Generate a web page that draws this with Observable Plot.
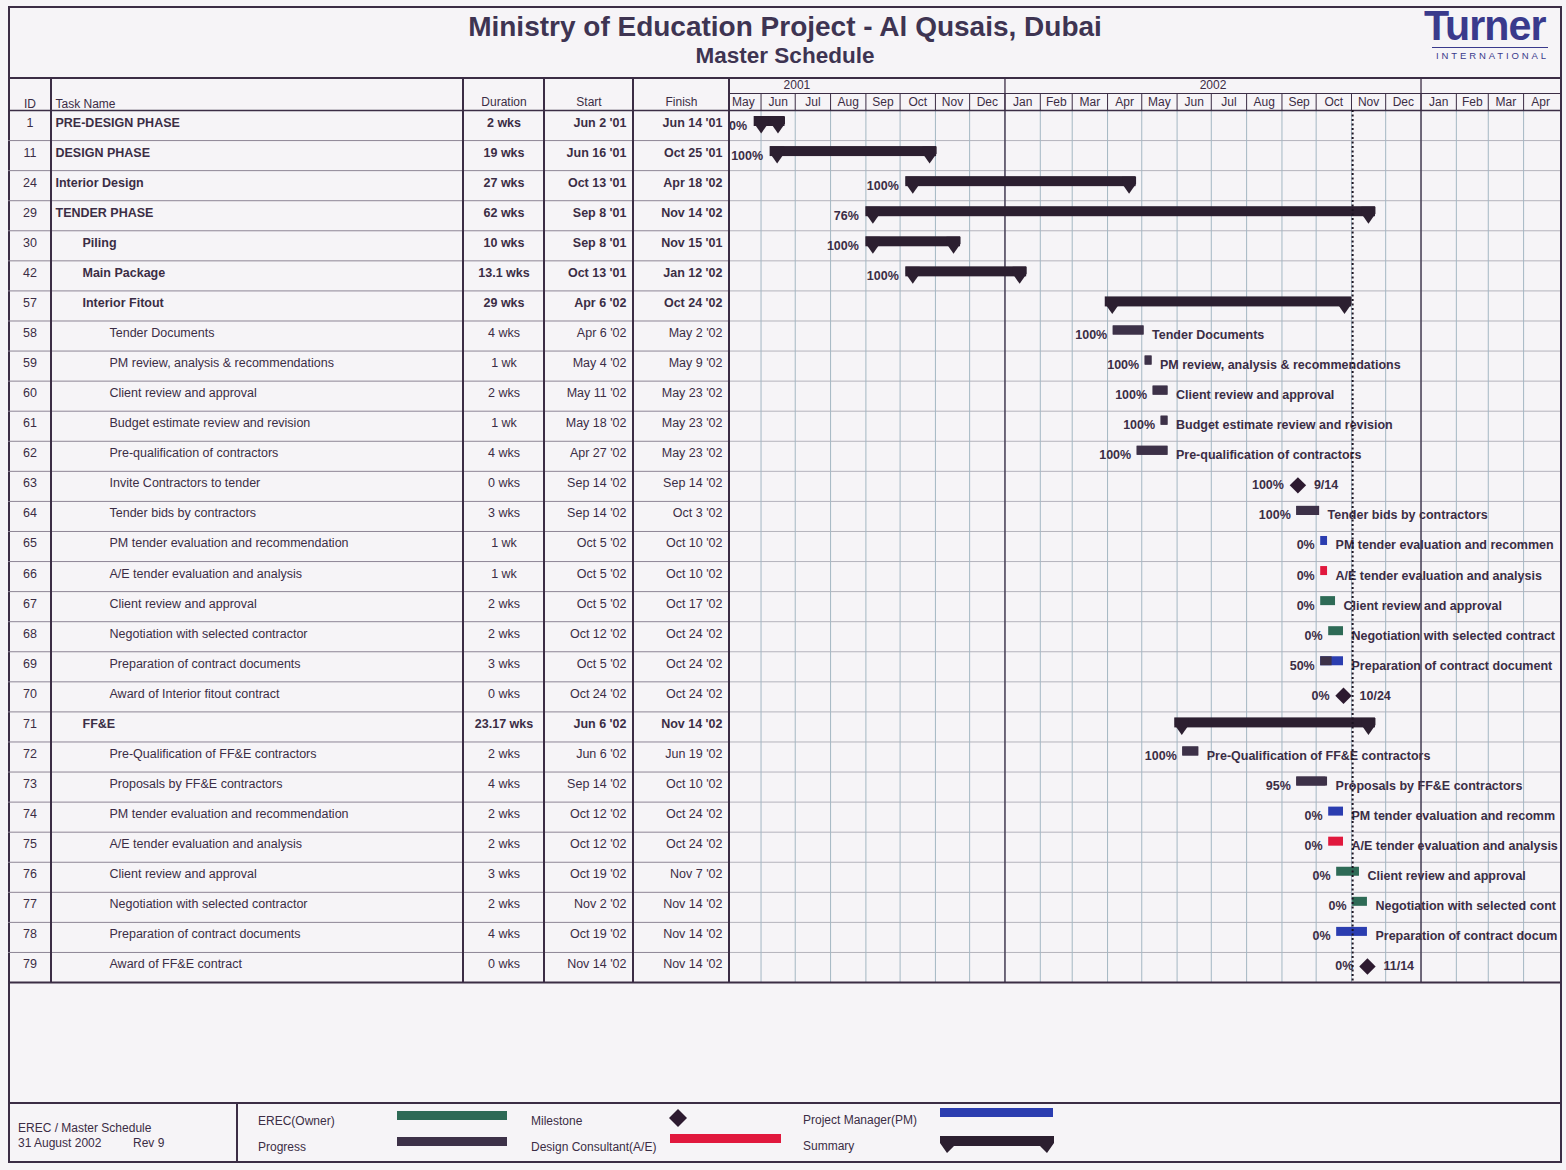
<!DOCTYPE html>
<html>
<head>
<meta charset="utf-8">
<title>Ministry of Education Project - Master Schedule</title>
<script src="https://cdn.jsdelivr.net/npm/d3@7"></script>
<script src="https://cdn.jsdelivr.net/npm/@observablehq/plot@0.6"></script>
<style>
  html, body { margin: 0; padding: 0; background: #f6f4f7; }
  #page { position: relative; width: 1566px; height: 1170px; overflow: hidden;
          font-family: "Liberation Sans", Arial, sans-serif; color: #3b2d45; }
  .abs { position: absolute; }
  .line { position: absolute; background: #3b2d45; }
  .title { position: absolute; left: 8px; width: 1554px; text-align: center; font-weight: bold; color: #3e3452; white-space: nowrap; }
  .lg { position: absolute; font-size: 12px; line-height: 14px; white-space: nowrap; color: #3b2d45; }
  .sw { position: absolute; height: 9px; }
</style>
</head>
<body>
<div id="page">
  <div class="abs" style="left:8px;top:6px;width:1554px;height:1157px;border:2px solid #3b2d45;box-sizing:border-box;"></div>
  <div class="title" style="top:11px;font-size:28px;">Ministry of Education Project - Al Qusais, Dubai</div>
  <div class="title" style="top:43px;font-size:22.5px;">Master Schedule</div>

  <div class="abs" style="left:1424px;top:7px;font-size:42px;font-weight:bold;color:#3a3a8c;letter-spacing:-1px;transform:scaleX(0.98);transform-origin:left top;line-height:38px;">Turner</div>
  <div class="abs" style="left:1432px;top:47px;width:116px;height:1px;background:#3a3a8c;"></div>
  <div class="abs" style="left:1436px;top:50px;font-size:9.5px;line-height:11px;letter-spacing:2.9px;color:#3a3a8c;">INTERNATIONAL</div>

  <div class="line" style="left:8px;top:77px;width:1554px;height:2px;"></div>

  <div class="line" style="left:8px;top:1102px;width:1554px;height:2px;"></div>
  <div class="line" style="left:236px;top:1102px;width:1.5px;height:60px;"></div>

  <div class="lg" style="left:18px;top:1121px;">EREC / Master Schedule</div>
  <div class="lg" style="left:18px;top:1136px;">31 August  2002</div>
  <div class="lg" style="left:133px;top:1136px;">Rev 9</div>

  <div class="lg" style="left:258px;top:1114px;">EREC(Owner)</div>
  <div class="sw" style="left:397px;top:1111px;width:110px;background:#2e6a56;"></div>
  <div class="lg" style="left:258px;top:1140px;">Progress</div>
  <div class="sw" style="left:397px;top:1137px;width:110px;background:#3d3148;"></div>

  <div class="lg" style="left:531px;top:1114px;">Milestone</div>
  <svg class="abs" style="left:669px;top:1109px;" width="18" height="18"><path d="M9,0L18,9L9,18L0,9Z" fill="#2d1a30"/></svg>
  <div class="lg" style="left:531px;top:1140px;">Design Consultant(A/E)</div>
  <div class="sw" style="left:670px;top:1134px;width:111px;background:#e1183d;"></div>

  <div class="lg" style="left:803px;top:1113px;">Project Manager(PM)</div>
  <div class="sw" style="left:940px;top:1108px;width:113px;background:#2b3db0;"></div>
  <div class="lg" style="left:803px;top:1139px;">Summary</div>
  <svg class="abs" style="left:940px;top:1136px;" width="114" height="18"><path d="M0,0H114V7L107,17L100,10H14L7,17L0,7Z" fill="#2c1f30"/></svg>
</div>

<script>
// ---------------- data ----------------
const ids = [1, 11, 24, 29, 30, 42, 57, 58, 59, 60, 61, 62, 63, 64, 65, 66, 67, 68, 69, 70, 71, 72, 73, 74, 75, 76, 77, 78, 79];
const taskNames = [
  "PRE-DESIGN PHASE", "DESIGN PHASE", "Interior Design", "TENDER PHASE", "Piling", "Main Package", "Interior Fitout",
  "Tender Documents", "PM review, analysis & recommendations", "Client review and approval",
  "Budget estimate review and revision", "Pre-qualification of contractors", "Invite Contractors to tender",
  "Tender bids by contractors", "PM tender evaluation and recommendation", "A/E tender evaluation and analysis",
  "Client review and approval", "Negotiation with selected contractor", "Preparation of contract documents",
  "Award of Interior fitout contract", "FF&E", "Pre-Qualification of FF&E contractors", "Proposals by FF&E contractors",
  "PM tender evaluation and recommendation", "A/E tender evaluation and analysis", "Client review and approval",
  "Negotiation with selected contractor", "Preparation of contract documents", "Award of FF&E contract"
];
const outlineLevels = [0, 0, 0, 0, 1, 1, 1, 2, 2, 2, 2, 2, 2, 2, 2, 2, 2, 2, 2, 2, 1, 2, 2, 2, 2, 2, 2, 2, 2];
const taskKinds = [
  "summary", "summary", "summary", "summary", "summary", "summary", "summary",
  "task", "task", "task", "task", "task", "milestone", "task", "task", "task", "task", "task", "task", "milestone",
  "summary", "task", "task", "task", "task", "task", "task", "task", "milestone"
];
const durationWeeks = [2, 19, 27, 62, 10, 13.1, 29, 4, 1, 2, 1, 4, 0, 3, 1, 1, 2, 2, 3, 0, 23.17, 2, 4, 2, 2, 3, 2, 4, 0];
const startDates = [
  "2001-06-02", "2001-06-16", "2001-10-13", "2001-09-08", "2001-09-08", "2001-10-13", "2002-04-06",
  "2002-04-06", "2002-05-04", "2002-05-11", "2002-05-18", "2002-04-27", "2002-09-14", "2002-09-14",
  "2002-10-05", "2002-10-05", "2002-10-05", "2002-10-12", "2002-10-05", "2002-10-24",
  "2002-06-06", "2002-06-06", "2002-09-14", "2002-10-12", "2002-10-12", "2002-10-19", "2002-11-02", "2002-10-19", "2002-11-14"
];
const finishDates = [
  "2001-06-14", "2001-10-25", "2002-04-18", "2002-11-14", "2001-11-15", "2002-01-12", "2002-10-24",
  "2002-05-02", "2002-05-09", "2002-05-23", "2002-05-23", "2002-05-23", "2002-09-14", "2002-10-03",
  "2002-10-10", "2002-10-10", "2002-10-17", "2002-10-24", "2002-10-24", "2002-10-24",
  "2002-11-14", "2002-06-19", "2002-10-10", "2002-10-24", "2002-10-24", "2002-11-07", "2002-11-14", "2002-11-14", "2002-11-14"
];
// responsible party of the remaining (not yet complete) work: "Owner" = EREC, "PM", "A/E"; "" = complete
const responsible = [
  "", "", "", "", "", "", "",
  "", "", "", "", "", "", "",
  "PM", "A/E", "Owner", "Owner", "PM", "",
  "", "", "", "PM", "A/E", "Owner", "Owner", "PM", ""
];
const percentComplete = [0, 100, 100, 76, 100, 100, null, 100, 100, 100, 100, 100, 100, 100, 0, 0, 0, 0, 50, 0,
  null, 100, 95, 0, 0, 0, 0, 0, 0];
const timescaleStart = "2001-05-01";
const timescaleEnd = "2003-05-01";
const statusDate = "2002-11-02";

// ---------------- styles ----------------
const ink = "#3b2d45";
const summaryFill = "#2c1f30";
const progressFill = "#3d3148";
const milestoneFill = "#2d1a30";
const partyFill = {Owner: "#2e6a56", PM: "#2b3db0", "A/E": "#e1183d", "": progressFill};
const gridV = "#a4b7c3";
const gridH = "#b4b3bc";
const rowRule = "#8d8595";
const font = "'Liberation Sans', Arial, sans-serif";
const fs = 12.5;

const fmtDate = d3.utcFormat("%b %-d '%y");
const fmtMD = d3.utcFormat("%-m/%-d");
const fmtMonth = d3.utcFormat("%b");
const fmtDur = w => w === 1 ? "1 wk" : `${w} wks`;

const rows = ids.map((id, i) => {
  const start = new Date(startDates[i]);
  const finish = new Date(finishDates[i]);
  return {
    i, id: String(id), name: taskNames[i], level: outlineLevels[i], kind: taskKinds[i],
    bold: taskKinds[i] === "summary", dur: fmtDur(durationWeeks[i]),
    startLabel: fmtDate(start), finishLabel: fmtDate(finish),
    start, finish, end: d3.utcDay.offset(finish, 1),
    party: responsible[i], pct: percentComplete[i]
  };
});

// ---------------- layout ----------------
const rowH = 30.07, headH = 32, n = rows.length;
const off = px => px / rowH;
const bodyBottom = headH + n * rowH;
const plotH = Math.ceil(bodyBottom + 2);
const gridTop = 78;
const yScale = {domain: [0, n], range: [headH, bodyBottom], axis: null};
const baseStyle = {background: "transparent", fontFamily: font, fontSize: fs + "px", color: ink, overflow: "visible"};
const page = document.getElementById("page");

function mount(svg, left, width) {
  const div = document.createElement("div");
  div.style.cssText = `position:absolute;left:${left}px;top:${gridTop}px;width:${width}px;`;
  div.append(svg);
  page.append(div);
}

// ---------------- table columns ----------------
const columns = [
  {x0: 8, x1: 51, header: "ID", hAnchor: "top", hdx: 0, hdy: -6, field: "id", anchor: "middle", dx: 0, boldable: false},
  {x0: 51, x1: 463, header: "Task Name", hAnchor: "top-left", hdx: 4, hdy: -6, field: "name", indent: true},
  {x0: 463, x1: 544, header: "Duration", hAnchor: "top", hdx: 0, hdy: -8, field: "dur", anchor: "middle", dx: 0, boldable: true},
  {x0: 544, x1: 633, header: "Start", hAnchor: "top", hdx: 0, hdy: -8, field: "startLabel", anchor: "right", dx: -7, boldable: true},
  {x0: 633, x1: 729, header: "Finish", hAnchor: "top", hdx: 0, hdy: -8, field: "finishLabel", anchor: "right", dx: -7, boldable: true}
];

for (const c of columns) {
  const w = c.x1 - c.x0;
  const textY = d => d.i + off(12);
  const marks = [
    Plot.ruleY(d3.range(1, n), {stroke: rowRule, strokeWidth: 1}),
    Plot.ruleY([0], {stroke: ink, strokeWidth: 1.5}),
    Plot.ruleY([n], {stroke: ink, strokeWidth: 2}),
    Plot.text([c.header], {text: d => d, frameAnchor: c.hAnchor, dx: c.hdx, dy: c.hdy, lineAnchor: "middle",
      fill: ink, fontSize: 12, textAnchor: c.hAnchor === "top-left" ? "start" : "middle"})
  ];
  const opts = {width: w, height: plotH, marginTop: headH, marginBottom: plotH - bodyBottom, marginLeft: 0, marginRight: 0,
    y: yScale, style: baseStyle};
  if (c.indent) {
    opts.x = {domain: [0, 2], range: [4, 58], axis: null};
    for (const bold of [false, true]) {
      marks.push(Plot.text(rows, {filter: d => d.bold === bold, x: "level", y: textY, text: "name", textAnchor: "start",
        fill: ink, fontSize: fs, fontWeight: bold ? "bold" : "normal"}));
    }
  } else {
    const ta = c.anchor === "right" ? "end" : "middle";
    for (const bold of [false, true]) {
      marks.push(Plot.text(rows, {filter: d => (c.boldable && d.bold) === bold, y: textY, text: c.field,
        frameAnchor: c.anchor, dx: c.dx, textAnchor: ta, fill: ink, fontSize: fs, fontWeight: bold ? "bold" : "normal"}));
    }
  }
  opts.marks = marks;
  mount(Plot.plot(opts), c.x0, w);
}

// ---------------- gantt ----------------
const g0 = 729, g1 = 1560, ganttW = g1 - g0;
const tsStart = new Date(timescaleStart), tsEnd = new Date(timescaleEnd);
const xRange = [-3.8, 828.3];
const months = d3.utcMonths(tsStart, tsEnd).map(m => ({
  start: m, mid: new Date((+m + +d3.utcMonth.offset(m, 1)) / 2), label: fmtMonth(m)
}));
const monthLines = months.map(m => m.start).filter(d => +d > +tsStart);
const yearLines = monthLines.filter(d => d.getUTCMonth() === 0);
const years = d3.utcYears(d3.utcYear.floor(tsStart), tsEnd).map(y => ({
  label: String(y.getUTCFullYear()), mid: new Date((+y + +d3.utcYear.offset(y, 1)) / 2)
})).filter(y => y.mid > tsStart && y.mid < tsEnd);

const summaries = rows.filter(d => d.kind === "summary");
const tasks = rows.filter(d => d.kind === "task");
const milestones = rows.filter(d => d.kind === "milestone");

// bar labels are cut at a character boundary where the timescale ends (as the scheduler does)
const labelDx = 8;
const measureCtx = document.createElement("canvas").getContext("2d");
measureCtx.font = `bold ${fs}px ${font}`;
const xPix = d3.scaleUtc([tsStart, tsEnd], xRange);
function fitLabel(d) {
  const room = ganttW - 1.5 - (xPix(d.end) + labelDx);
  let t = d.name;
  while (t.length && measureCtx.measureText(t).width > room) t = t.slice(0, -1);
  return t.replace(/\s+$/, "");
}

const summaryEnd = {
  draw(ctx) {
    ctx.moveTo(-7, -5); ctx.lineTo(7, -5); ctx.lineTo(7, 2); ctx.lineTo(0, 12); ctx.lineTo(-7, 2); ctx.closePath();
  }
};

const monthRow = off(17), headRows = off(headH);
const lbl = {fill: ink, fontSize: fs, fontWeight: "bold"};

const gantt = Plot.plot({
  width: ganttW, height: plotH, marginTop: headH, marginBottom: plotH - bodyBottom, marginLeft: 0, marginRight: 0,
  x: {type: "utc", domain: [tsStart, tsEnd], range: xRange, axis: null},
  y: yScale,
  color: {type: "identity"},
  style: baseStyle,
  marks: [
    // grid
    Plot.ruleY(d3.range(1, n), {stroke: gridH, strokeWidth: 1}),
    Plot.ruleX(monthLines, {y1: 0, y2: n, stroke: gridV, strokeWidth: 1}),
    Plot.ruleX(monthLines, {y1: -monthRow, y2: 0, stroke: ink, strokeWidth: 1}),
    Plot.ruleX(yearLines, {y1: -headRows, y2: n, stroke: ink, strokeWidth: 1.3}),
    Plot.ruleY([-monthRow], {stroke: ink, strokeWidth: 1}),
    Plot.ruleY([0], {stroke: ink, strokeWidth: 1.5}),
    Plot.ruleY([n], {stroke: ink, strokeWidth: 2}),
    // timescale labels
    Plot.text(months, {x: "mid", y: -off(8), text: "label", fill: ink, fontSize: 12}),
    Plot.text(years, {x: "mid", y: -off(25), text: "label", fill: ink, fontSize: 12}),
    // summary bars
    Plot.rect(summaries, {x1: "start", x2: "end", y1: d => d.i + off(6), y2: d => d.i + off(16), fill: summaryFill,
      insetLeft: -8, insetRight: -8}),
    Plot.dot(summaries, {x: "start", y: d => d.i + off(11), symbol: summaryEnd, fill: summaryFill, stroke: "none", dx: -1}),
    Plot.dot(summaries, {x: "end", y: d => d.i + off(11), symbol: summaryEnd, fill: summaryFill, stroke: "none", dx: 1}),
    // task bars and progress
    Plot.rect(tasks, {x1: "start", x2: "end", y1: d => d.i + off(5), y2: d => d.i + off(14), fill: d => partyFill[d.party]}),
    Plot.rect(tasks.filter(d => d.pct > 0), {x1: "start", x2: d => new Date(+d.start + (d.end - d.start) * d.pct / 100),
      y1: d => d.i + off(5), y2: d => d.i + off(14), fill: progressFill}),
    // milestones
    Plot.dot(milestones, {x: "end", y: d => d.i + off(14), symbol: "diamond2", r: 7.4, fill: milestoneFill, stroke: "none"}),
    // percent labels
    Plot.text(summaries.filter(d => d.pct != null), {x: "start", y: d => d.i + off(15), text: d => d.pct + "%",
      textAnchor: "end", dx: -15, ...lbl}),
    Plot.text(tasks, {x: "start", y: d => d.i + off(14), text: d => d.pct + "%", textAnchor: "end", dx: -6, ...lbl}),
    Plot.text(milestones, {x: "end", y: d => d.i + off(14), text: d => d.pct + "%", textAnchor: "end", dx: -14, ...lbl}),
    // bar labels
    Plot.text(tasks, {x: "end", y: d => d.i + off(14), text: fitLabel, textAnchor: "start", dx: labelDx, ...lbl}),
    Plot.text(milestones, {x: "end", y: d => d.i + off(14), text: d => fmtMD(d.finish), textAnchor: "start", dx: 16, ...lbl}),
    // status date line
    Plot.ruleX([new Date(statusDate)], {y1: 0, y2: n, stroke: "#1b1320", strokeWidth: 2, strokeDasharray: "2,2.5"})
  ]
});
mount(gantt, g0, ganttW);

// column dividers
for (const c of columns) {
  const d = document.createElement("div");
  d.className = "line";
  d.style.cssText = `left:${c.x1 - 0.75}px;top:${gridTop}px;width:1.5px;height:${bodyBottom}px;`;
  page.append(d);
}
</script>
</body>
</html>
